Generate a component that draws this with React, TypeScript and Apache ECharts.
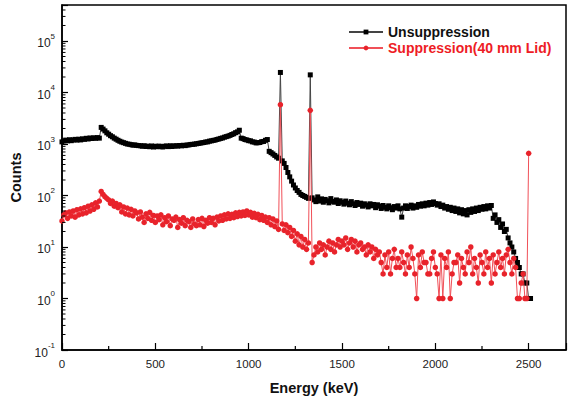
import React, { useEffect, useRef } from "react";
import * as echarts from "echarts";

// Channel grid of the spectra (keV)
const CHANNEL_START_KEV = 0;
const CHANNEL_STEP_KEV = 10;

// Unsuppressed spectrum, one value per 10 keV channel from 0 to 2510 keV
const unsuppressionCounts = [
  1100, 1150, 1190, 1150, 1210, 1160, 1200, 1230, 1190, 1240,
  1200, 1260, 1230, 1290, 1250, 1310, 1280, 1320, 1290, 1330,
  1300, 2100, 1950, 1800, 1650, 1550, 1450, 1380, 1300, 1240,
  1180, 1130, 1090, 1060, 1030, 1000, 990, 970, 950, 960,
  940, 930, 925, 905, 925, 895, 910, 885, 915, 875,
  905, 885, 910, 890, 875, 905, 915, 890, 925, 895,
  915, 925, 910, 935, 920, 945, 930, 955, 960, 980,
  985, 995, 1010, 1025, 1040, 1055, 1070, 1095, 1100, 1135,
  1150, 1175, 1190, 1225, 1250, 1285, 1310, 1355, 1390, 1425,
  1470, 1530, 1580, 1660, 1720, 1850, 1300, 1270, 1220, 1200,
  1160, 1150, 1100, 1090, 1050, 1060, 1070, 1110, 1120, 1180,
  1220, 720, 680, 640, 600, 560, 530, 24500, 470, 420,
  350, 280, 230, 190, 160, 140, 125, 115, 105, 100,
  96, 92, 88, 22000, 90, 82, 76, 94, 78, 86,
  74, 84, 79, 72, 87, 77, 74, 82, 70, 79,
  74, 68, 78, 71, 66, 76, 69, 64, 73, 67,
  71, 62, 69, 65, 60, 69, 63, 67, 58, 66,
  62, 56, 64, 59, 55, 63, 58, 53, 61, 57,
  63, 55, 38, 57, 63, 56, 61, 65, 57, 63,
  59, 67, 62, 69, 63, 71, 65, 73, 67, 75,
  70, 65, 69, 61, 65, 57, 61, 54, 59, 51,
  57, 49, 55, 46, 53, 44, 51, 42, 53, 47,
  55, 49, 57, 51, 59, 54, 61, 55, 63, 57,
  64, 36, 42, 30, 34, 24, 28, 20, 22, 15,
  12, 10, 8, 6, 5, 4, 3, 3, 2, 2,
  1, 1,
];

// Suppressed spectrum (40 mm lid), one value per 10 keV channel from 0 to 2500 keV
const suppressionCounts = [
  32, 42, 46, 36, 48, 40, 50, 38, 53, 42,
  55, 44, 58, 46, 62, 50, 66, 54, 72, 60,
  78, 120, 105, 95, 88, 82, 70, 78, 62, 70,
  58, 66, 48, 60, 44, 57, 42, 54, 40, 50,
  46, 35, 48, 38, 30, 44, 36, 47, 33, 41,
  30, 40, 34, 42, 27, 37, 31, 40, 26, 35,
  33, 38, 24, 34, 29, 37, 26, 33, 31, 24,
  35, 28, 26, 34, 27, 36, 25, 33, 29, 37,
  30, 36, 27, 38, 32, 40, 33, 42, 35, 44,
  36, 43, 37, 46, 39, 47, 40, 48, 41, 50,
  42, 47, 38, 45, 37, 43, 34, 41, 33, 38,
  30, 37, 27, 35, 25, 32, 22, 5800, 28, 21,
  27, 19, 24, 16, 21, 13, 18, 11, 16, 10,
  14, 9, 12, 4500, 5, 7, 10, 8, 12, 9,
  11, 7, 10, 13, 9, 12, 8, 11, 14, 10,
  13, 11, 15, 9, 12, 14, 10, 13, 8, 11,
  12, 9, 10, 7, 11, 8, 10, 6, 9, 7,
  8, 5, 3, 7, 4, 8, 3, 6, 9, 4,
  6, 4, 8, 5, 3, 7, 4, 10, 6, 3,
  1, 7, 4, 8, 5, 5, 3, 3, 6, 8,
  4, 3, 1, 7, 1, 6, 4, 8, 1, 3,
  5, 5, 7, 2, 6, 4, 3, 8, 5, 10,
  3, 6, 4, 2, 7, 5, 3, 8, 4, 6,
  2, 7, 3, 5, 8, 4, 6, 3, 7, 9,
  5, 3, 6, 4, 1, 1, 2, 3, 1, 1,
  660,
];

const xMinorTicks = [250, 750, 1250, 1750, 2250];
const yMinorTicks = [
  0.2, 0.3, 0.4, 0.5, 0.6, 0.7, 0.8, 0.9,
  2, 3, 4, 5, 6, 7, 8, 9,
  20, 30, 40, 50, 60, 70, 80, 90,
  200, 300, 400, 500, 600, 700, 800, 900,
  2000, 3000, 4000, 5000, 6000, 7000, 8000, 9000,
  20000, 30000, 40000, 50000, 60000, 70000, 80000, 90000,
  200000, 300000, 400000,
];

const SERIES_BLACK = "Unsuppression";
const SERIES_RED = "Suppression(40 mm Lid)";

const FONT = "'Liberation Sans', Arial, Helvetica, sans-serif";

export default function App() {
  const ref = useRef<HTMLDivElement>(null);

  useEffect(() => {
    if (!ref.current) return;
    const chart = echarts.init(ref.current, undefined, { renderer: "svg" });

    const blackData = unsuppressionCounts.map((c, i) => [CHANNEL_START_KEV + i * CHANNEL_STEP_KEV, c]);
    const redData = suppressionCounts.map((c, i) => [CHANNEL_START_KEV + i * CHANNEL_STEP_KEV, c]);

    const option: any = {
      animation: false,
      backgroundColor: "#ffffff",
      textStyle: { fontFamily: FONT },
      grid: {
        left: 62,
        right: 11,
        top: 5,
        bottom: 49,
        show: true,
        borderColor: "#000",
        borderWidth: 1.5,
        backgroundColor: "transparent",
      },
      legend: {
        orient: "vertical",
        left: 343,
        top: 20,
        itemWidth: 34,
        itemHeight: 6,
        itemGap: 2,
        textStyle: { fontFamily: FONT, fontWeight: "bold", fontSize: 14 },
        data: [
          { name: SERIES_BLACK, textStyle: { color: "#111" } },
          { name: SERIES_RED, textStyle: { color: "#ee1c25" } },
        ],
      },
      xAxis: {
        type: "value",
        min: 0,
        max: 2700,
        interval: 500,
        name: "Energy (keV)",
        nameLocation: "middle",
        nameGap: 30,
        nameTextStyle: { fontFamily: FONT, fontWeight: "bold", fontSize: 14.5, color: "#111" },
        axisLine: { show: true, lineStyle: { color: "#000", width: 1.5 } },
        axisTick: { show: true, inside: true, length: 7, lineStyle: { color: "#000", width: 1.2 } },
        axisLabel: {
          fontSize: 11.5,
          color: "#222",
          margin: 8,
          formatter: (v: number) => (v % 500 === 0 ? String(v) : ""),
        },
        splitLine: { show: false },
      },
      yAxis: {
        type: "log",
        logBase: 10,
        min: 0.1,
        max: 500000,
        name: "Counts",
        nameLocation: "middle",
        nameGap: 34,
        nameTextStyle: { fontFamily: FONT, fontWeight: "bold", fontSize: 14.5, color: "#111" },
        axisLine: { show: true, lineStyle: { color: "#000", width: 1.5 } },
        axisTick: { show: true, inside: true, length: 6, lineStyle: { color: "#000", width: 1.2 } },
        axisLabel: {
          margin: 7,
          color: "#222",
          formatter: (v: number) => {
            const e = Math.log10(v);
            const r = Math.round(e);
            if (Math.abs(e - r) > 1e-6) return "";
            return `{b|10}{s|${r}}`;
          },
          rich: {
            b: { fontSize: 12, lineHeight: 17, verticalAlign: "bottom", color: "#222", fontFamily: FONT },
            s: { fontSize: 8, lineHeight: 8, verticalAlign: "top", color: "#222", fontFamily: FONT },
          },
        },
        splitLine: { show: false },
      },
      series: [
        {
          name: SERIES_BLACK,
          type: "line",
          data: blackData,
          symbol: "rect",
          symbolSize: 5,
          showAllSymbol: true,
          itemStyle: { color: "#000" },
          lineStyle: { color: "#444", width: 1 },
          z: 2,
        },
        {
          name: SERIES_RED,
          type: "line",
          data: redData,
          symbol: "circle",
          symbolSize: 5.5,
          showAllSymbol: true,
          itemStyle: { color: "#e8232b" },
          lineStyle: { color: "#f05058", width: 1 },
          z: 3,
        },
        {
          name: "yMinorTicks",
          type: "custom",
          silent: true,
          clip: false,
          z: 5,
          data: yMinorTicks.map((v) => [0, v]),
          renderItem: (_p: any, api: any) => {
            const pt = api.coord([api.value(0), api.value(1)]);
            return {
              type: "line",
              shape: { x1: pt[0], y1: pt[1], x2: pt[0] + 3.5, y2: pt[1] },
              style: { stroke: "#000", lineWidth: 1 },
            };
          },
        },
        {
          name: "xMinorTicks",
          type: "custom",
          silent: true,
          clip: false,
          z: 5,
          data: xMinorTicks.map((v) => [v, 0.1]),
          renderItem: (_p: any, api: any) => {
            const pt = api.coord([api.value(0), api.value(1)]);
            return {
              type: "line",
              shape: { x1: pt[0], y1: pt[1], x2: pt[0], y2: pt[1] - 4 },
              style: { stroke: "#000", lineWidth: 1.2 },
            };
          },
        },
      ],
    };

    chart.setOption(option);
    return () => {
      chart.dispose();
    };
  }, []);

  return (
    <div
      ref={ref}
      style={{ position: "fixed", left: 0, top: 0, width: 577, height: 400, background: "#fff" }}
    />
  );
}
